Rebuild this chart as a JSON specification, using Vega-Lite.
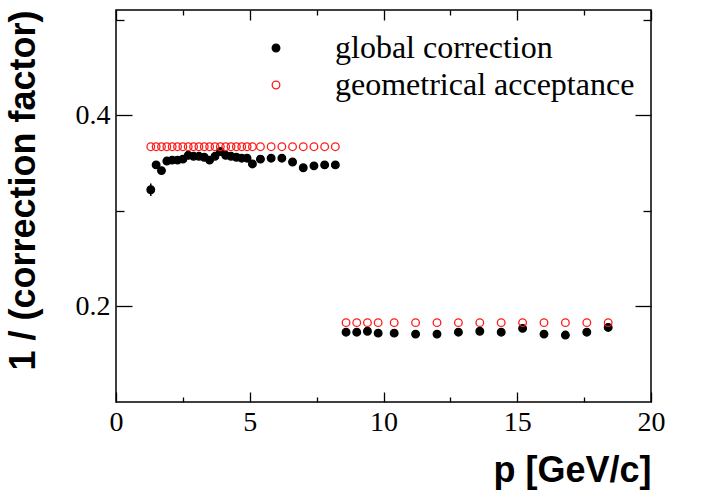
{
  "$schema": "https://vega.github.io/schema/vega-lite/v6.json",
  "width": 535,
  "height": 392,
  "autosize": {"type": "none"},
  "padding": {"left": 116, "top": 10, "right": 72, "bottom": 89},
  "background": "white",
  "data": {
    "values": [
      {"p": 1.3, "v": 0.322, "series": "global correction", "lo": 0.3155, "hi": 0.3285},
      {"p": 1.5, "v": 0.348, "series": "global correction"},
      {"p": 1.7, "v": 0.342, "series": "global correction"},
      {"p": 1.9, "v": 0.352, "series": "global correction"},
      {"p": 2.1, "v": 0.353, "series": "global correction"},
      {"p": 2.3, "v": 0.353, "series": "global correction"},
      {"p": 2.5, "v": 0.354, "series": "global correction"},
      {"p": 2.7, "v": 0.358, "series": "global correction"},
      {"p": 2.9, "v": 0.357, "series": "global correction"},
      {"p": 3.1, "v": 0.357, "series": "global correction"},
      {"p": 3.3, "v": 0.356, "series": "global correction"},
      {"p": 3.5, "v": 0.353, "series": "global correction"},
      {"p": 3.7, "v": 0.357, "series": "global correction"},
      {"p": 3.9, "v": 0.362, "series": "global correction", "lo": 0.358, "hi": 0.366},
      {"p": 4.1, "v": 0.358, "series": "global correction"},
      {"p": 4.3, "v": 0.357, "series": "global correction"},
      {"p": 4.5, "v": 0.356, "series": "global correction"},
      {"p": 4.7, "v": 0.355, "series": "global correction"},
      {"p": 4.9, "v": 0.355, "series": "global correction"},
      {"p": 5.1, "v": 0.349, "series": "global correction"},
      {"p": 5.4, "v": 0.354, "series": "global correction"},
      {"p": 5.8, "v": 0.355, "series": "global correction"},
      {"p": 6.2, "v": 0.355, "series": "global correction"},
      {"p": 6.6, "v": 0.351, "series": "global correction"},
      {"p": 7.0, "v": 0.345, "series": "global correction"},
      {"p": 7.4, "v": 0.347, "series": "global correction"},
      {"p": 7.8, "v": 0.348, "series": "global correction"},
      {"p": 8.2, "v": 0.348, "series": "global correction"},
      {"p": 8.6, "v": 0.173, "series": "global correction"},
      {"p": 9.0, "v": 0.173, "series": "global correction"},
      {"p": 9.4, "v": 0.174, "series": "global correction"},
      {"p": 9.8, "v": 0.172, "series": "global correction"},
      {"p": 10.4, "v": 0.172, "series": "global correction"},
      {"p": 11.2, "v": 0.171, "series": "global correction"},
      {"p": 12.0, "v": 0.171, "series": "global correction"},
      {"p": 12.8, "v": 0.173, "series": "global correction"},
      {"p": 13.6, "v": 0.174, "series": "global correction"},
      {"p": 14.4, "v": 0.173, "series": "global correction"},
      {"p": 15.2, "v": 0.177, "series": "global correction"},
      {"p": 16.0, "v": 0.171, "series": "global correction"},
      {"p": 16.8, "v": 0.170, "series": "global correction"},
      {"p": 17.6, "v": 0.173, "series": "global correction"},
      {"p": 18.4, "v": 0.178, "series": "global correction"},
      {"p": 1.3, "v": 0.367, "series": "geometrical acceptance"},
      {"p": 1.5, "v": 0.367, "series": "geometrical acceptance"},
      {"p": 1.7, "v": 0.367, "series": "geometrical acceptance"},
      {"p": 1.9, "v": 0.367, "series": "geometrical acceptance"},
      {"p": 2.1, "v": 0.367, "series": "geometrical acceptance"},
      {"p": 2.3, "v": 0.367, "series": "geometrical acceptance"},
      {"p": 2.5, "v": 0.367, "series": "geometrical acceptance"},
      {"p": 2.7, "v": 0.367, "series": "geometrical acceptance"},
      {"p": 2.9, "v": 0.367, "series": "geometrical acceptance"},
      {"p": 3.1, "v": 0.367, "series": "geometrical acceptance"},
      {"p": 3.3, "v": 0.367, "series": "geometrical acceptance"},
      {"p": 3.5, "v": 0.367, "series": "geometrical acceptance"},
      {"p": 3.7, "v": 0.367, "series": "geometrical acceptance"},
      {"p": 3.9, "v": 0.367, "series": "geometrical acceptance"},
      {"p": 4.1, "v": 0.367, "series": "geometrical acceptance"},
      {"p": 4.3, "v": 0.367, "series": "geometrical acceptance"},
      {"p": 4.5, "v": 0.367, "series": "geometrical acceptance"},
      {"p": 4.7, "v": 0.367, "series": "geometrical acceptance"},
      {"p": 4.9, "v": 0.367, "series": "geometrical acceptance"},
      {"p": 5.1, "v": 0.367, "series": "geometrical acceptance"},
      {"p": 5.4, "v": 0.367, "series": "geometrical acceptance"},
      {"p": 5.8, "v": 0.367, "series": "geometrical acceptance"},
      {"p": 6.2, "v": 0.367, "series": "geometrical acceptance"},
      {"p": 6.6, "v": 0.367, "series": "geometrical acceptance"},
      {"p": 7.0, "v": 0.367, "series": "geometrical acceptance"},
      {"p": 7.4, "v": 0.367, "series": "geometrical acceptance"},
      {"p": 7.8, "v": 0.367, "series": "geometrical acceptance"},
      {"p": 8.2, "v": 0.367, "series": "geometrical acceptance"},
      {"p": 8.6, "v": 0.183, "series": "geometrical acceptance"},
      {"p": 9.0, "v": 0.183, "series": "geometrical acceptance"},
      {"p": 9.4, "v": 0.183, "series": "geometrical acceptance"},
      {"p": 9.8, "v": 0.183, "series": "geometrical acceptance"},
      {"p": 10.4, "v": 0.183, "series": "geometrical acceptance"},
      {"p": 11.2, "v": 0.183, "series": "geometrical acceptance"},
      {"p": 12.0, "v": 0.183, "series": "geometrical acceptance"},
      {"p": 12.8, "v": 0.183, "series": "geometrical acceptance"},
      {"p": 13.6, "v": 0.183, "series": "geometrical acceptance"},
      {"p": 14.4, "v": 0.183, "series": "geometrical acceptance"},
      {"p": 15.2, "v": 0.183, "series": "geometrical acceptance"},
      {"p": 16.0, "v": 0.183, "series": "geometrical acceptance"},
      {"p": 16.8, "v": 0.183, "series": "geometrical acceptance"},
      {"p": 17.6, "v": 0.183, "series": "geometrical acceptance"},
      {"p": 18.4, "v": 0.183, "series": "geometrical acceptance"}
    ]
  },
  "layer": [
    {
      "transform": [{"filter": "isValid(datum.lo)"}],
      "mark": {"type": "rule", "color": "black", "strokeWidth": 1.5},
      "encoding": {
        "x": {
          "field": "p", "type": "quantitative",
          "scale": {"domain": [0, 20], "nice": false, "zero": false},
          "axis": {
            "orient": "top", "title": null, "labels": false,
            "values": [0, 2.5, 5, 7.5, 10, 12.5, 15, 17.5, 20],
            "tickSize": {"condition": {"test": "datum.value % 5 === 0", "value": -10}, "value": -5}
          }
        },
        "y": {
          "field": "lo", "type": "quantitative",
          "scale": {"domain": [0.1, 0.51], "nice": false, "zero": false},
          "axis": {
            "orient": "right", "title": null, "labels": false,
            "values": [0.2, 0.3, 0.4, 0.5],
            "tickSize": {"condition": {"test": "datum.value === 0.2 || datum.value === 0.4", "value": -16}, "value": -8}
          }
        },
        "y2": {"field": "hi"}
      }
    },
    {
      "mark": {"type": "point", "size": 58, "strokeWidth": 1.3, "opacity": 1},
      "encoding": {
        "x": {
          "field": "p", "type": "quantitative",
          "axis": {
            "orient": "bottom", "title": "p [GeV/c]",
            "values": [0, 2.5, 5, 7.5, 10, 12.5, 15, 17.5, 20],
            "labelExpr": "datum.value % 5 === 0 ? datum.label : ''",
            "labelFlush": false, "labelPadding": 16,
            "tickSize": {"condition": {"test": "datum.value % 5 === 0", "value": -10}, "value": -5},
            "titleAnchor": "end", "titlePadding": 17, "titleFontSize": 36
          }
        },
        "y": {
          "field": "v", "type": "quantitative",
          "axis": {
            "orient": "left", "title": "1 / (correction factor)",
            "values": [0.2, 0.3, 0.4, 0.5],
            "labelExpr": "datum.value === 0.2 || datum.value === 0.4 ? datum.label : ''",
            "labelPadding": 22,
            "tickSize": {"condition": {"test": "datum.value === 0.2 || datum.value === 0.4", "value": -16}, "value": -8},
            "titleAnchor": "end", "titlePadding": 33, "titleFontSize": 36
          }
        },
        "fill": {
          "field": "series", "type": "nominal",
          "scale": {"domain": ["global correction", "geometrical acceptance"], "range": ["black", "transparent"]},
          "legend": {
            "title": null, "orient": "none", "legendX": 144, "legendY": 22,
            "labelOffset": 43, "rowPadding": 5, "padding": 0, "labelLimit": 0
          }
        },
        "stroke": {
          "field": "series", "type": "nominal",
          "scale": {"domain": ["global correction", "geometrical acceptance"], "range": ["black", "#ff1a1a"]},
          "legend": {
            "title": null, "orient": "none", "legendX": 144, "legendY": 22,
            "labelOffset": 43, "rowPadding": 5, "padding": 0, "labelLimit": 0
          }
        }
      }
    }
  ],
  "resolve": {"axis": {"x": "independent", "y": "independent"}},
  "config": {
    "view": {"stroke": "black", "strokeWidth": 1.5},
    "axis": {
      "grid": false, "domain": false,
      "tickColor": "black", "tickWidth": 1.3,
      "labelFont": "Liberation Serif", "labelFontSize": 28, "labelColor": "black",
      "titleFont": "Liberation Sans", "titleFontWeight": "bold", "titleColor": "black"
    },
    "legend": {
      "labelFont": "Liberation Serif", "labelFontSize": 32, "labelColor": "black",
      "symbolSize": 58, "symbolStrokeWidth": 1.3, "symbolType": "circle"
    }
  }
}
